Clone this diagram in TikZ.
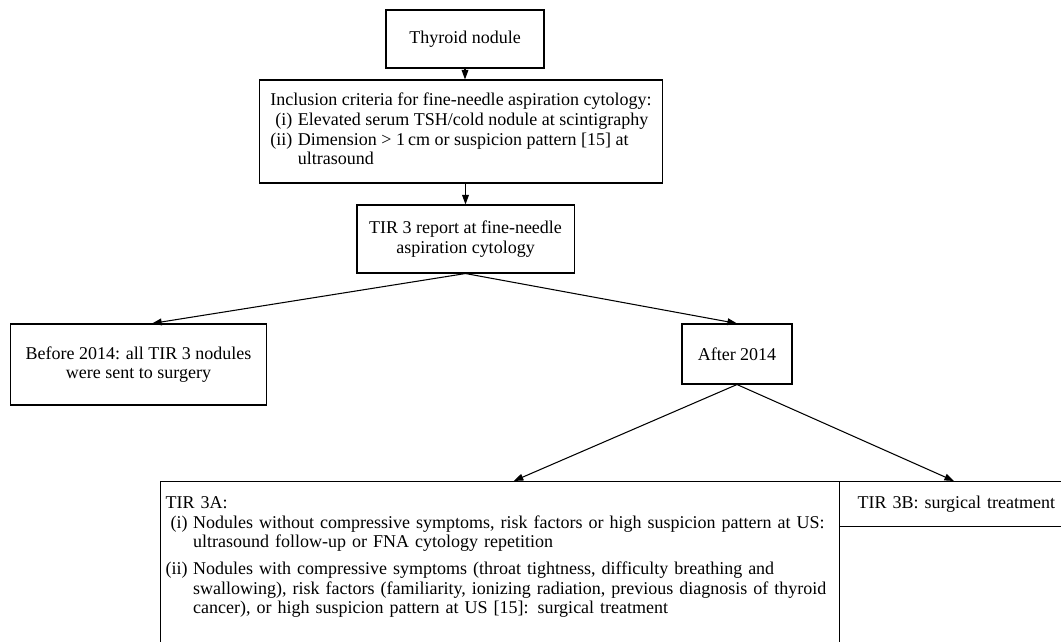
\documentclass[tikz,border=0pt]{standalone}
\usepackage{fontspec}
\setmainfont{Liberation Serif}
\usetikzlibrary{arrows.meta}

\begin{document}
\begin{tikzpicture}[x=0.025cm,y=-0.025cm,
  box/.style={draw, line width=0.75pt, font=\fontsize{12.8}{14}\selectfont, inner sep=0pt, align=center},
  arr/.style={line width=0.75pt, -{Triangle[length=2.4mm,width=1.7mm]}}]
\clip (0,0) rectangle (1061,642);
% top of the chart
\node[box, minimum width=3.95cm, minimum height=1.45cm] (thyroid) at (465,39) {Thyroid nodule};
\node[box, minimum width=10.05cm, minimum height=2.575cm] (incl) at (461,131.5) {\begin{tabular}{@{}r@{\hspace{4pt}}l@{}}
\multicolumn{2}{@{}l@{}}{Inclusion criteria for fine-needle aspiration cytology:}\\
(i) & Elevated serum TSH/cold nodule at scintigraphy\\
(ii) & Dimension > 1\,cm or suspicion pattern [15] at\\
 & ultrasound
\end{tabular}};
\node[box, minimum width=5.425cm, minimum height=1.7cm] (tir3) at (465.5,239) {TIR 3 report at fine-needle\\aspiration cytology};
% before / after
\node[box, minimum width=6.375cm, minimum height=2.025cm] (before) at (138.5,364.5) {Before 2014: all TIR 3 nodules\\were sent to surgery};
\node[box, minimum width=2.75cm, minimum height=1.5cm] (after) at (737,354) {After 2014};
% bottom row, cut by the page
\node[box, anchor=north west, text width=16.725cm, inner xsep=0.125cm, inner ysep=0.33cm, align=left] (tir3a) at (160,481) {\begin{tabular}{@{}r@{\hspace{4pt}}l@{}}
\multicolumn{2}{@{}l@{}}{TIR 3A:}\\
(i) & Nodules without compressive symptoms, risk factors or high suspicion pattern at US:\\
 & ultrasound follow-up or FNA cytology repetition\\[5pt]
(ii) & Nodules with compressive symptoms (throat tightness, difficulty breathing and\\
 & swallowing), risk factors (familiarity, ionizing radiation, previous diagnosis of thyroid\\
 & cancer), or high suspicion pattern at US [15]: surgical treatment\\[3cm]
\end{tabular}};
\node[box, anchor=north west, text width=6.6cm, inner xsep=0.45cm, minimum height=1.125cm, align=left] (tir3b) at (839,481) {TIR 3B: surgical treatment};

\draw[arr] (thyroid.south) -- (thyroid.south |- incl.north);
\draw[arr] (incl.south -| tir3.north) -- (tir3.north);
\draw[arr] (tir3.south) -- ([xshift=0.34cm]before.north);
\draw[arr] (tir3.south) -- (after.north);
\draw[arr] (after.south) -- ([xshift=0.34cm]tir3a.north);
\draw[arr] (after.south) -- ([xshift=2.875cm]tir3b.north west);
\end{tikzpicture}
\end{document}
